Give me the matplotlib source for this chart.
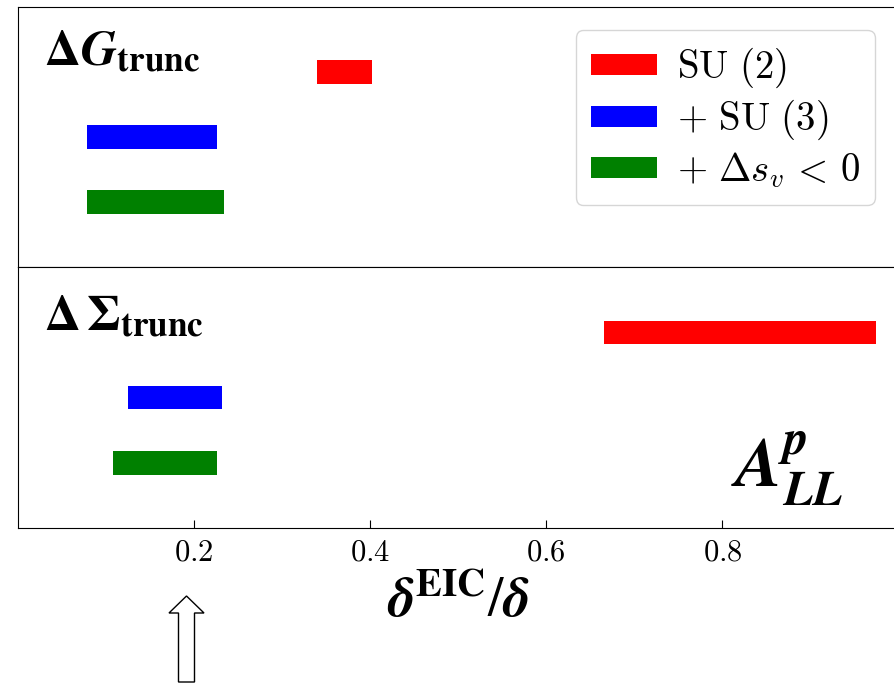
import matplotlib
matplotlib.use('Agg')
import matplotlib.pyplot as plt
import matplotlib.patches as mpatches

plt.rcParams['mathtext.fontset'] = 'cm'
plt.rcParams['font.family'] = 'serif'
plt.rcParams['font.serif'] = ['DejaVu Serif']

# bar ranges (start, end) of delta^EIC / delta
labels = [r'$\mathrm{SU}\ (2)$', r'$+\ \mathrm{SU}\ (3)$', r'$+\ \Delta s_v \,<\, 0$']
colors = ['red', 'blue', 'green']
dG_lo = [0.340, 0.078, 0.078]
dG_hi = [0.402, 0.226, 0.234]
dS_lo = [0.666, 0.125, 0.108]
dS_hi = [0.974, 0.232, 0.226]
ypos = [3, 2, 1]
xticks = [0.2, 0.4, 0.6, 0.8, 1.0]
xticklabels = ['0.2', '0.4', '0.6', '0.8', '1']

fig = plt.figure(figsize=(8.94, 6.84), dpi=100)
ax1 = fig.add_axes([0.020, 0.6096, 0.985, 0.3802])
ax2 = fig.add_axes([0.020, 0.228, 0.985, 0.3816], sharex=ax1)

for ax, lo, hi in [(ax1, dG_lo, dG_hi), (ax2, dS_lo, dS_hi)]:
    for i in range(3):
        ax.barh(ypos[i], hi[i] - lo[i], left=lo[i], height=0.36,
                color=colors[i], label=labels[i])
    ax.set_ylim(0, 4)
    ax.set_yticks([])

ax1.set_xlim(0, 1.0)
ax1.tick_params(axis='x', bottom=False, labelbottom=False)
ax2.set_xticks(xticks)
ax2.set_xticklabels([r'$\mathrm{%s}$' % s for s in xticklabels])
ax2.tick_params(axis='x', direction='in', length=6, labelsize=22, pad=6)

ax2.set_xlabel(r'$\boldsymbol{\delta}^{\mathbf{EIC}}/\boldsymbol{\delta}$', fontsize=40,
               labelpad=4, math_fontfamily='stix')

ax1.text(0.03, 0.83, r'$\mathbf{\Delta}\boldsymbol{G}_{\mathbf{trunc}}$', transform=ax1.transAxes,
         fontsize=36, va='center', ha='left', math_fontfamily='stix')
ax2.text(0.03, 0.81, r'$\mathbf{\Delta\,\Sigma}_{\mathbf{trunc}}$', transform=ax2.transAxes,
         fontsize=36, va='center', ha='left', math_fontfamily='stix')
ax2.text(0.81, 0.23, r'$\boldsymbol{A}^{\boldsymbol{p}}_{\boldsymbol{LL}}$', transform=ax2.transAxes,
         fontsize=50, va='center', ha='left', math_fontfamily='stix')

ax1.legend(loc='upper right', fontsize=28, handlelength=1.7, handleheight=0.45,
           borderaxespad=0.6, labelspacing=0.2, handletextpad=0.5, borderpad=0.4)

# outlined arrow under the axis
arrow = mpatches.FancyArrow(1.865, 0.02, 0, 0.86, width=0.16, head_width=0.35,
                            head_length=0.17, length_includes_head=True,
                            facecolor='white', edgecolor='black', linewidth=1.0,
                            transform=fig.dpi_scale_trans)
fig.patches.append(arrow)

fig.savefig('out.png', dpi=100)
